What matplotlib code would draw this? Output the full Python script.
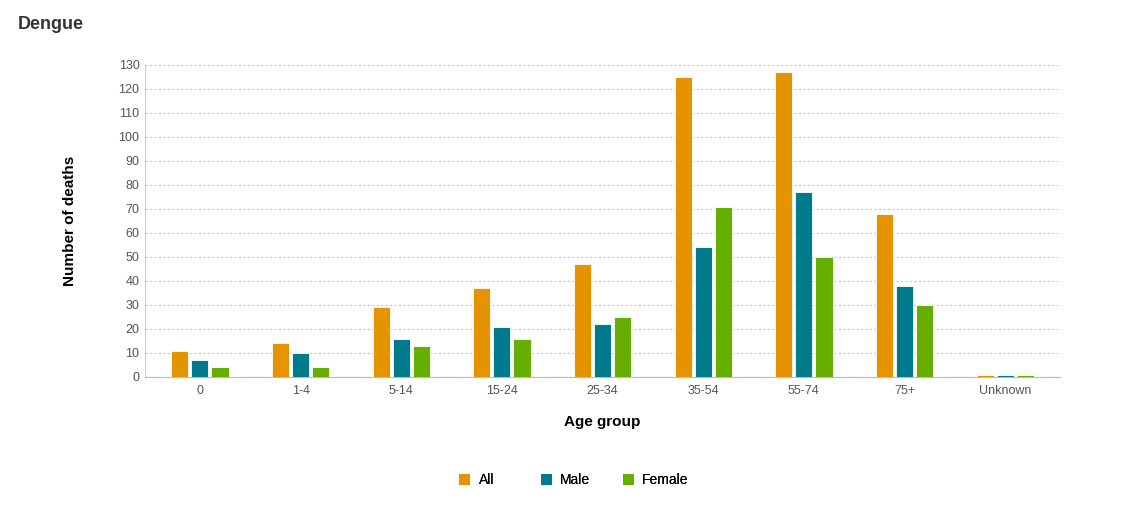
import numpy as np
import matplotlib.pyplot as plt
from matplotlib.patches import Patch

plt.rcParams['font.family'] = ['Liberation Sans', 'DejaVu Sans']

# data
age_groups = ['0', '1-4', '5-14', '15-24', '25-34', '35-54', '55-74', '75+', 'Unknown']
deaths_all = [11, 14, 29, 37, 47, 125, 127, 68, 1]
deaths_male = [7, 10, 16, 21, 22, 54, 77, 38, 1]
deaths_female = [4, 4, 13, 16, 25, 71, 50, 30, 1]

series = [('All', deaths_all, '#e59400'),
          ('Male', deaths_male, '#007b8e'),
          ('Female', deaths_female, '#66ae00')]

fig = plt.figure(figsize=(11.34, 5.17), dpi=100)
ax = fig.add_axes([0.1279, 0.2708, 0.8069, 0.6035])

x = np.arange(len(age_groups))
w = 0.17
step = 0.2
for i, (name, vals, col) in enumerate(series):
    ax.bar(x + (i - 1) * step, vals, width=w, color=col,
           edgecolor='white', linewidth=0.6, zorder=3)

ax.set_xlim(-0.545, len(age_groups) - 0.455)
ax.set_ylim(0, 130)
ax.set_yticks(np.arange(0, 131, 10))
ax.set_xticks(x)
ax.set_xticklabels(age_groups)
ax.tick_params(axis='both', length=0, labelsize=9, colors='#555555', pad=6)
ax.tick_params(axis='y', pad=4)
ax.grid(axis='y', linestyle=(0, (2, 2)), color='#c8c8c8', linewidth=0.8, zorder=0)
for s in ['top', 'right']:
    ax.spines[s].set_visible(False)
ax.spines['left'].set_color('#cccccc')
ax.spines['bottom'].set_color('#bbbbbb')

ax.set_xlabel('Age group', fontsize=11, fontweight='bold', labelpad=13)
ax.set_ylabel('Number of deaths', fontsize=11, fontweight='bold', labelpad=30)

fig.text(0.016, 0.952, 'Dengue', fontsize=13, fontweight='bold', color='#333333',
         va='center')

# legend entries spaced evenly like the original
legend_x = [0.405, 0.477, 0.549]
for (name, _, col), lx in zip(series, legend_x):
    leg = fig.legend(handles=[Patch(facecolor=col, edgecolor='none', label=name)],
                     loc='center left', bbox_to_anchor=(lx, 0.071), frameon=False,
                     fontsize=10, handlelength=0.8, handleheight=0.8,
                     handletextpad=0.6, borderpad=0, borderaxespad=0)
    fig.add_artist(leg)

fig.savefig('out.png', dpi=100)
